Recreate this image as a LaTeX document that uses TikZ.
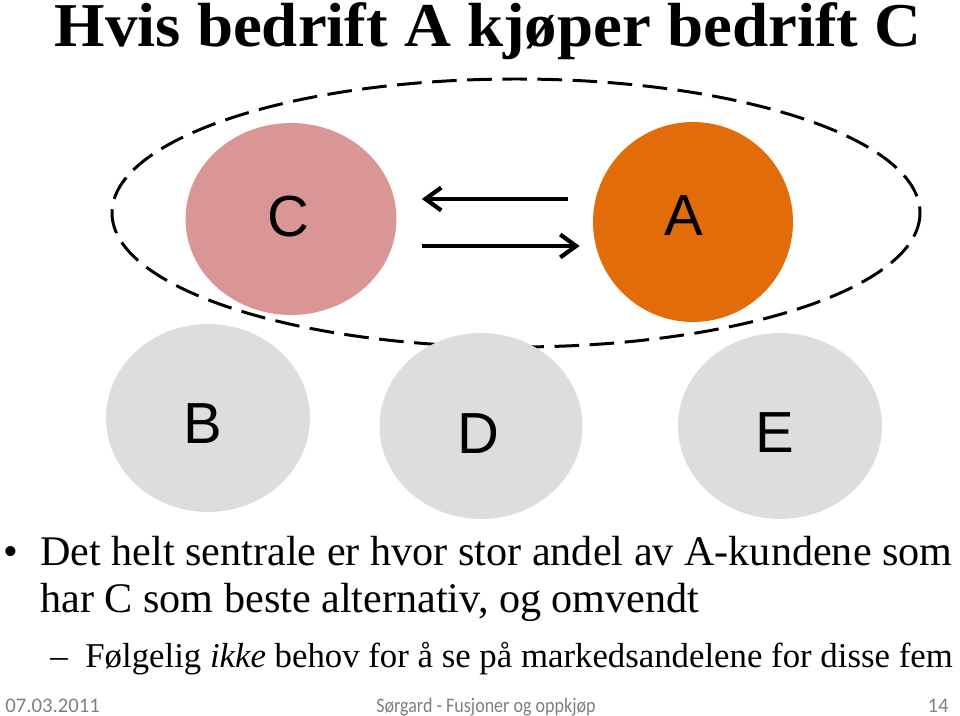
\documentclass[tikz,border=0pt]{standalone}
\usepackage{fontspec}
\setmainfont{Liberation Serif}
\newfontfamily\arialfont{Liberation Sans}
\newfontfamily\calibrifont{Carlito}
\usetikzlibrary{arrows.meta,shapes.geometric,calc}
\definecolor{dustyrose}{RGB}{217, 150, 148}
\definecolor{pumpkin}{RGB}{227, 108, 10}
\definecolor{silver}{RGB}{221, 221, 221}
\definecolor{footgray}{RGB}{128, 128, 128}

\begin{document}
\begin{tikzpicture}[x=0.02cm, y=-0.02cm,
    firm/.style={ellipse, inner sep=0pt, draw=none},
    letter/.style={font=\arialfont\fontsize{33}{33}\selectfont, inner sep=0pt},
    flow/.style={-{Straight Barb[length=9pt, width=13pt]}, line width=2.4pt},
    bodytext/.style={anchor=base west, inner sep=0pt, font=\fontsize{24}{24}\selectfont},
    subtext/.style={anchor=base west, inner sep=0pt, font=\fontsize{19.8}{19.8}\selectfont},
    foot/.style={inner sep=0pt, font=\calibrifont\fontsize{11.8}{11.8}\selectfont, text=footgray}]
            \useasboundingbox[fill=white] (0,0) rectangle (960,716);
            % title
            \node[font=\bfseries\fontsize{35.5}{35.5}\selectfont, anchor=base, inner sep=0pt, text height=24pt, xscale=1.04] (title) at (488,47) {Hvis bedrift A kj\o per bedrift C};
            % the merged pair
            \draw[line width=1.7pt, dash pattern=on 14pt off 6pt] (516,213) ellipse (404 and 134);
            \node[firm, fill=dustyrose, minimum width=4.22cm, minimum height=3.84cm] (C) at (291,219) {};
            \node[firm, fill=pumpkin,   minimum width=4.00cm, minimum height=4.00cm] (A) at (693,222) {};
            \node[letter] (lC) at ($(C)+(-3,-2)$) {C};
            \node[letter] (lA) at ($(A)+(-9,-6)$) {A};
            \draw[flow] ($(A.west)+(-25,-23)$) coordinate (a1) -- ($(C.east)+(25,-20)$) coordinate (c1);
            \draw[flow] ($(C.east)+(25,27)$) coordinate (c2) -- ($(A.west)+(-13,24)$) coordinate (a2);
            % the others
            \node[firm, fill=silver, minimum width=4.08cm, minimum height=3.76cm] (B) at (208,418) {};
            \node[firm, fill=silver, minimum width=4.06cm, minimum height=3.72cm] (D) at (481,426) {};
            \node[firm, fill=silver, minimum width=4.08cm, minimum height=3.72cm] (E) at (780,426) {};
            \node[letter] (lB) at ($(B)+(-5,6)$) {B};
            \node[letter] (lD) at ($(D)+(-3,8)$) {D};
            \node[letter] (lE) at ($(E)+(-5,7)$) {E};
            % bullets
            \node[bodytext] (b0) at (3,565) {\textbullet};
            \node[bodytext] (b1) at (40,565) {Det helt sentrale er hvor stor andel av A-kundene som};
            \node[bodytext] (b2) at (40,612) {har C som beste alternativ, og omvendt};
            \node[subtext] (s0) at (50,667) {\textendash};
            \node[subtext] (s1) at (85,667) {F\o lgelig \textit{ikke} behov for \aa{} se p\aa{} markedsandelene for disse fem};
            % footer
            \node[foot, anchor=base west] (date) at (5,712) {07.03.2011};
            \node[foot, anchor=base, xscale=0.87] (who) at (486,712) {S\o rgard - Fusjoner og oppkj\o p};
            \node[foot, anchor=base east] (page) at (949,712) {14};
        \end{tikzpicture}
\end{document}
